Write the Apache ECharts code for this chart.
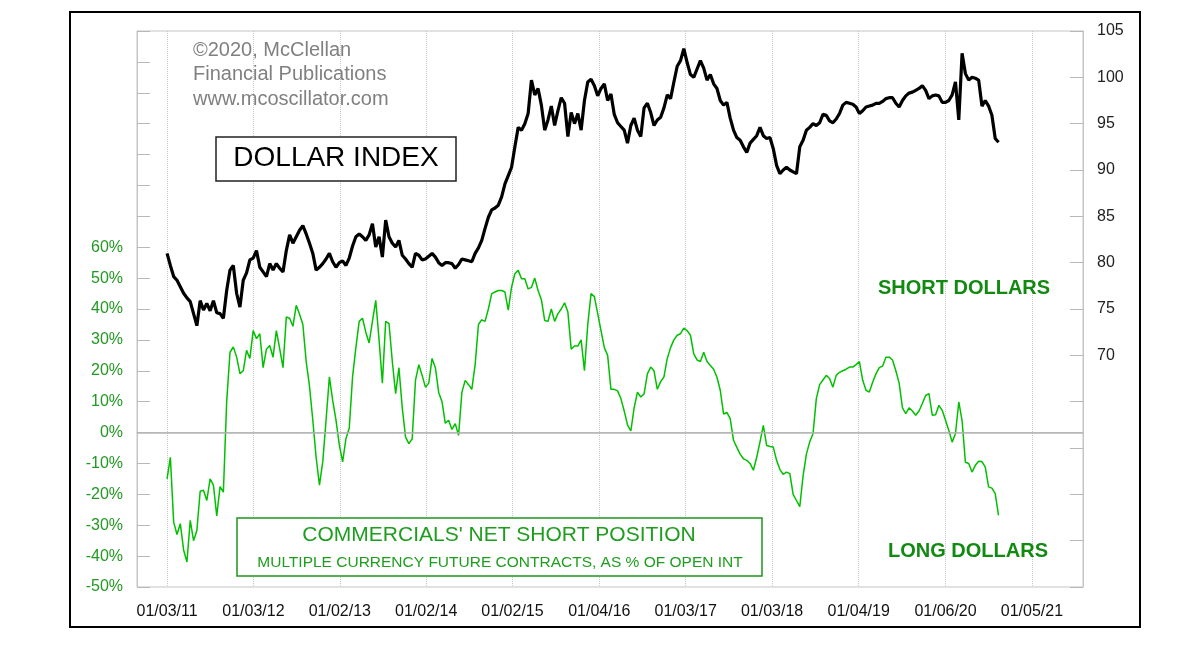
<!DOCTYPE html>
<html>
<head>
<meta charset="utf-8">
<script src="https://cdn.jsdelivr.net/npm/echarts@6/dist/echarts.min.js"></script>
<style>
html,body{margin:0;padding:0;background:#fff;}
#c{width:1200px;height:650px;}
</style>
</head>
<body>
<div id="c"></div>
<script>
// ---- data (two-week spacing from 2011-01-03) ----
const startDate = '2011-01-03';
const stepDays = 14;

const dollarIndex = [
81.0, 79.7, 78.5, 78.1, 77.4, 76.7, 76.2, 75.8, 74.5, 73.2,
75.9, 74.9, 75.6, 74.8, 75.9, 74.6, 74.5, 74.0, 77.0, 79.2,
79.7, 76.7, 75.2, 78.1, 78.9, 80.3, 80.5, 81.3, 79.5, 79.0,
78.5, 79.9, 79.2, 79.9, 79.4, 79.0, 81.3, 83.0, 82.1, 82.8,
83.5, 84.0, 83.1, 82.1, 81.0, 79.2, 79.5, 79.9, 80.4, 81.0,
80.1, 79.5, 80.0, 80.2, 79.7, 80.5, 81.8, 82.8, 83.1, 82.8,
82.4, 83.0, 84.2, 81.7, 82.8, 80.6, 84.6, 82.8, 82.1, 81.7,
82.4, 80.8, 80.4, 79.9, 79.5, 81.0, 80.8, 80.3, 80.4, 80.7,
81.0, 80.6, 80.0, 79.7, 80.0, 80.0, 79.9, 79.4, 79.8, 80.4,
80.3, 80.2, 80.1, 81.0, 81.6, 82.4, 83.7, 84.9, 85.7, 85.9,
86.2, 87.1, 88.5, 89.4, 90.3, 92.5, 94.6, 94.3, 95.0, 96.1,
99.7, 98.1, 98.8, 97.0, 94.3, 95.4, 96.9, 94.8, 96.4, 97.8,
97.2, 93.6, 96.2, 95.0, 96.1, 94.3, 97.5, 99.5, 99.8, 99.1,
98.0, 98.8, 99.3, 97.5, 98.2, 96.0, 95.1, 94.7, 94.3, 92.9,
94.8, 95.6, 94.3, 93.6, 96.7, 97.2, 96.2, 94.8, 95.4, 95.7,
96.7, 98.1, 97.7, 99.5, 101.2, 101.8, 103.1, 101.6, 100.3, 100.0,
100.9, 101.8, 101.0, 99.7, 100.3, 99.3, 98.8, 97.5, 97.0, 97.3,
95.6, 94.3, 93.5, 93.2, 92.5, 91.9, 92.9, 93.3, 93.7, 94.6,
93.7, 93.4, 93.5, 92.3, 90.5, 89.6, 90.0, 90.3, 90.0, 89.8,
89.6, 92.5, 93.2, 94.3, 94.6, 95.0, 94.8, 95.1, 96.0, 95.9,
95.3, 95.1, 95.5, 96.1, 97.0, 97.3, 97.2, 97.1, 96.8, 96.1,
96.4, 96.8, 96.9, 97.0, 97.2, 97.2, 97.4, 97.7, 97.8, 97.8,
97.2, 96.8, 97.5, 98.0, 98.3, 98.4, 98.6, 98.8, 99.1, 98.6,
97.7, 98.0, 98.1, 98.0, 97.3, 97.3, 97.5, 98.1, 99.5, 95.4,
102.6, 100.4, 99.7, 100.0, 99.9, 99.7, 96.9, 97.5, 96.9, 95.9,
93.4, 93.0
];

const netShortPct = [
-15, -8, -29, -33, -29.5, -38, -41.9, -28.4, -35, -31.7,
-19, -18.7, -22, -15, -17, -27, -17.5, -19.3, 10, 26,
27.7, 24.5, 19.1, 20, 26.6, 24, 33, 30.4, 32, 21,
27, 28.2, 24.4, 33, 27.2, 21, 37.4, 37, 34.4, 41.2,
38.3, 35, 23, 15, 4, -8, -17, -9.5, 4, 18,
10.4, 4, -4, -9.5, -2, 1.5, 18, 27.5, 36, 37,
32.5, 29, 36, 42.8, 30, 16, 36, 35.3, 23, 12.6,
21, 8, -1.5, -3.6, -2, 17, 22, 18.5, 14.7, 16,
24, 21, 13, 10, 3, 4, 1, 2.9, -0.9, 13,
16.9, 15.5, 14, 22, 35, 36.5, 36, 40, 45, 45.5,
46, 46, 45.5, 39.6, 47.1, 51.4, 52.5, 49.8, 49.8, 46.5,
47, 50, 46, 43, 36.3, 36, 40, 36, 38.5, 40,
42, 39, 27, 28, 28, 30, 20, 35, 45, 44,
38.5, 33, 27.5, 25, 14, 14, 13.5, 11, 7, 2.5,
0.5, 8, 13.1, 11.5, 12.5, 19, 21.2, 20, 14, 16.5,
18, 24, 27.5, 30, 31.5, 32, 33.8, 33, 31.5, 25.5,
23.5, 23, 26, 23, 21.7, 20.5, 17.9, 13.7, 6, 6.5,
4.5, -2.5, -4.8, -7, -8.5, -9, -10, -12.2, -8, -3,
2.3, -4.2, -4.5, -4.7, -9, -12, -13.5, -12.8, -13.3, -20,
-22, -24, -14, -7, -3, -0.4, 11, 15.5, 17, 18.5,
17.5, 14.7, 18.5, 19.5, 20, 20.5, 21.2, 21.2, 22, 23,
16.9, 13.7, 13.1, 16.3, 19, 21, 21.5, 24.4, 24.4, 23.5,
20, 16, 8, 6.1, 8, 7, 5.6, 7, 9.4, 12,
12.6, 5.6, 5.8, 8.8, 7.2, 4, 0.7, -3.1, -0.4, 9.9,
3.9, -9.6, -10, -12.8, -10.6, -9.3, -9.4, -11.2, -17.6, -18,
-19.8, -26.8
];

const tickDates = ['2011-01-03','2012-01-03','2013-01-02','2014-01-02','2015-01-02','2016-01-04','2017-01-03','2018-01-03','2019-01-04','2020-01-06','2021-01-05'];
const tickLabels = ['01/03/11','01/03/12','01/02/13','01/02/14','01/02/15','01/04/16','01/03/17','01/03/18','01/04/19','01/06/20','01/05/21'];

const xMinDate = '2010-08-29';
const xMaxDate = '2021-08-09';

// ---- build ----
const DAY = 86400000;
const t0 = Date.parse(startDate + 'T00:00:00Z');
const toT = d => Date.parse(d + 'T00:00:00Z');
const tickTimes = tickDates.map(toT);
const dxData = dollarIndex.map((v, i) => [t0 + i * stepDays * DAY, v]);
const csData = netShortPct.map((v, i) => [t0 + i * stepDays * DAY, v]);

const FONT = "'Liberation Sans', Arial, Helvetica, sans-serif";
const GRAY = '#b8b8b8';
const LABEL_GREEN = '#229922';

const chart = echarts.init(document.getElementById('c'), null, {renderer: 'canvas'});
chart.setOption({
  animation: false,
  backgroundColor: '#ffffff',
  grid: {left: 137, right: 117, top: 31, bottom: 63, show: true, borderColor: '#c4c4c4', borderWidth: 1, containLabel: false, outerBoundsMode: 'none'},
  xAxis: {
    type: 'value',
    min: toT(xMinDate), max: toT(xMaxDate),
    axisLine: {show: true, lineStyle: {color: '#c4c4c4', width: 1}},
    axisTick: {show: false, customValues: tickTimes},
    splitLine: {show: true, lineStyle: {color: '#c8c8c8', type: 'dotted', width: 1}},
    axisLabel: {
      customValues: tickTimes,
      margin: 17,
      color: '#111',
      fontFamily: FONT,
      fontSize: 16,
      formatter: function (val) {
        for (let k = 0; k < tickTimes.length; k++) {
          if (Math.abs(tickTimes[k] - val) < DAY) return tickLabels[k];
        }
        return '';
      }
    }
  },
  yAxis: [
    {
      type: 'value', position: 'left', min: -50, max: 130, interval: 10,
      axisLine: {show: true, lineStyle: {color: '#c4c4c4'}},
      axisTick: {show: true, inside: true, length: 13, lineStyle: {color: GRAY}},
      splitLine: {show: false},
      axisLabel: {
        margin: 14, color: LABEL_GREEN, fontFamily: FONT, fontSize: 16,
        formatter: v => (v <= 60 ? v + '%' : '')
      }
    },
    {
      type: 'value', position: 'right', min: 45, max: 105, interval: 5,
      axisLine: {show: true, lineStyle: {color: '#c4c4c4'}},
      axisTick: {show: true, inside: true, length: 13, lineStyle: {color: GRAY}},
      splitLine: {show: false},
      axisLabel: {
        margin: 14, color: '#222', fontFamily: FONT, fontSize: 16,
        formatter: v => (v >= 70 ? String(v) : '')
      }
    }
  ],
  series: [
    {
      name: 'Commercials net short', type: 'line', yAxisIndex: 0,
      data: csData, showSymbol: false, symbol: 'none',
      lineStyle: {color: '#00c000', width: 1.5},
      itemStyle: {color: '#00c000'},
      z: 3,
      markLine: {
        silent: true, symbol: 'none', label: {show: false},
        lineStyle: {color: '#b4b4b4', width: 1.5, type: 'solid'},
        data: [{yAxis: 0}]
      }
    },
    {
      name: 'Dollar Index', type: 'line', yAxisIndex: 1,
      data: dxData, showSymbol: false, symbol: 'none',
      lineStyle: {color: '#000', width: 3.2},
      itemStyle: {color: '#000'},
      z: 4
    }
  ],
  graphic: [
    {type: 'rect', shape: {x: 70, y: 12, width: 1070, height: 615}, style: {fill: 'none', stroke: '#000', lineWidth: 2}, silent: true, z: 10},
    {type: 'text', x: 193, y: 50, style: {text: '\u00A92020, McClellan', font: '20px ' + FONT, fill: '#808080', textAlign: 'left', textVerticalAlign: 'middle', align: 'left', verticalAlign: 'middle'}, z: 10},
    {type: 'text', x: 193, y: 74, style: {text: 'Financial Publications', font: '20px ' + FONT, fill: '#808080', textAlign: 'left', textVerticalAlign: 'middle', align: 'left', verticalAlign: 'middle'}, z: 10},
    {type: 'text', x: 193, y: 99, style: {text: 'www.mcoscillator.com', font: '20px ' + FONT, fill: '#808080', textAlign: 'left', textVerticalAlign: 'middle', align: 'left', verticalAlign: 'middle'}, z: 10},
    {type: 'rect', shape: {x: 216, y: 137, width: 240, height: 44}, style: {fill: '#fff', stroke: '#222', lineWidth: 1.5}, z: 10},
    {type: 'text', x: 336, y: 158, style: {text: 'DOLLAR INDEX', font: '28px ' + FONT, fill: '#000', textAlign: 'center', textVerticalAlign: 'middle', align: 'center', verticalAlign: 'middle'}, z: 11},
    {type: 'text', x: 964, y: 288, style: {text: 'SHORT DOLLARS', font: 'bold 20px ' + FONT, fill: '#128a12', textAlign: 'center', textVerticalAlign: 'middle', align: 'center', verticalAlign: 'middle'}, z: 10},
    {type: 'text', x: 968, y: 551, style: {text: 'LONG DOLLARS', font: 'bold 20px ' + FONT, fill: '#128a12', textAlign: 'center', textVerticalAlign: 'middle', align: 'center', verticalAlign: 'middle'}, z: 10},
    {type: 'rect', shape: {x: 237, y: 518, width: 525, height: 58}, style: {fill: '#fff', stroke: '#1e961e', lineWidth: 1.5}, z: 10},
    {type: 'text', x: 499, y: 535, style: {text: "COMMERCIALS' NET SHORT POSITION", font: '21px ' + FONT, fill: '#1e9e1e', textAlign: 'center', textVerticalAlign: 'middle', align: 'center', verticalAlign: 'middle'}, z: 11},
    {type: 'text', x: 500, y: 563, style: {text: 'MULTIPLE CURRENCY FUTURE CONTRACTS, AS % OF OPEN INT', font: '15.5px ' + FONT, fill: '#1e9e1e', textAlign: 'center', textVerticalAlign: 'middle', align: 'center', verticalAlign: 'middle'}, z: 11}
  ]
});
</script>
</body>
</html>
